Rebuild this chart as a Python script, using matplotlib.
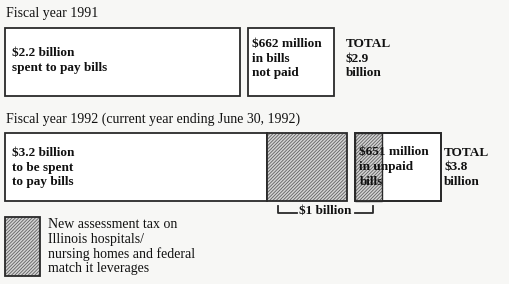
import matplotlib.pyplot as plt

# values in billions of dollars
years = ['Fiscal year 1991', 'Fiscal year 1992 (current year ending June 30, 1992)']
spent = [2.2, 3.2]
unpaid = [0.662, 0.651]
totals = [2.9, 3.8]
new_tax = 1.0
tax_on_unpaid = 0.25  # part of the hatched $1 billion sitting in the unpaid box

spent_labels = ['$2.2 billion\nspent to pay bills', '$3.2 billion\nto be spent\nto pay bills']
unpaid_labels = ['$662 million\nin bills\nnot paid', '$651 million\nin unpaid\nbills']
total_labels = ['TOTAL\n$2.9\nbillion', 'TOTAL\n$3.8\nbillion']
legend_text = 'New assessment tax on\nIllinois hospitals/\nnursing homes and federal\nmatch it leverages'

plt.rcParams['font.family'] = ['Liberation Serif', 'DejaVu Serif']
plt.rcParams['hatch.linewidth'] = 0.6

px = 107.0          # pixels per billion
min_box = 0.8       # small boxes get a minimum width so the text fits
gap = 8 / px
x0 = 5 / px

fig = plt.figure(figsize=(5.10, 2.84), dpi=100)
fig.patch.set_facecolor('#f7f7f5')
ax = fig.add_axes([0, 0, 1, 1])
ax.set_xlim(0, 510 / px)
ax.set_ylim(284, 0)
ax.axis('off')

edge = '#2a2a2a'
hatch_col = '#606060'
hatch_face = '#d4d4d4'
hatch = '/' * 10

row_top = [27.5, 132.5]
row_h = [68, 68.5]
title_y = [13, 119]
total_gap = [0.11, 0.03]
spent_off = [19.5, 14.5]
unpaid_off = [10.5, 14]

for i in range(2):
    yc = row_top[i] + row_h[i] / 2
    h = row_h[i]
    ax.text(x0 + 1 / px, title_y[i], years[i], fontsize=10, va='center', ha='left', color='#111')

    tax_here = (new_tax - tax_on_unpaid) if i == 1 else 0
    white_w = spent[i] - tax_here
    # spending box
    ax.barh(yc, white_w, left=x0, height=h, color='white', edgecolor=edge, linewidth=1.3)
    if tax_here:
        ax.barh(yc, tax_here, left=x0 + white_w, height=h, color=hatch_face, edgecolor=hatch_col,
                linewidth=0, hatch=hatch)
        ax.barh(yc, tax_here, left=x0 + white_w, height=h, color='none', edgecolor=edge, linewidth=1.3)
    ax.text(x0 + 7 / px, row_top[i] + spent_off[i], spent_labels[i], fontsize=9.5, fontweight='bold',
            va='top', ha='left', linespacing=1.3, color='#111')

    # unpaid box
    ux = x0 + spent[i] + gap
    uw = max(unpaid[i], min_box)
    ax.barh(yc, uw, left=ux, height=h, color='white', edgecolor=edge, linewidth=1.3)
    if i == 1:
        ax.barh(yc, tax_on_unpaid, left=ux, height=h, color=hatch_face, edgecolor=hatch_col,
                linewidth=0, hatch=hatch)
        ax.barh(yc, tax_on_unpaid, left=ux, height=h, color='none', edgecolor=edge, linewidth=1.0)
        ax.barh(yc, uw, left=ux, height=h, color='none', edgecolor=edge, linewidth=1.3)
    ax.text(ux + 4 / px, row_top[i] + unpaid_off[i], unpaid_labels[i], fontsize=9.5, fontweight='bold',
            va='top', ha='left', linespacing=1.3, color='#111')

    ax.text(ux + uw + total_gap[i], row_top[i] + unpaid_off[i], total_labels[i], fontsize=9.5,
            fontweight='bold', va='top', ha='left', linespacing=1.3, color='#111')

# bracket under the $1 billion of new tax
b_left = x0 + spent[1] - (new_tax - tax_on_unpaid) + 11 / px
b_right = x0 + spent[1] + gap + tax_on_unpaid - 9 / px
b_y, b_top = 213, 206
mid = (b_left + b_right) / 2
ax.plot([b_left, b_left, mid - 29 / px], [b_top, b_y, b_y], color=edge, lw=1.3)
ax.plot([mid + 29 / px, b_right, b_right], [b_y, b_y, b_top], color=edge, lw=1.3)
ax.text(mid, b_y - 2, '$' + f'{new_tax:g} billion', fontsize=9.5, fontweight='bold',
        ha='center', va='center', color='#111')

# legend
ax.barh(246.5, 35 / px, left=x0, height=59, color=hatch_face, edgecolor=hatch_col,
        linewidth=0, hatch=hatch)
ax.barh(246.5, 35 / px, left=x0, height=59, color='none', edgecolor=edge, linewidth=1.3)
ax.text(48 / px, 218, legend_text, fontsize=10, va='top', ha='left', linespacing=1.15, color='#111')

fig.savefig('out.png', dpi=100, facecolor=fig.get_facecolor())
